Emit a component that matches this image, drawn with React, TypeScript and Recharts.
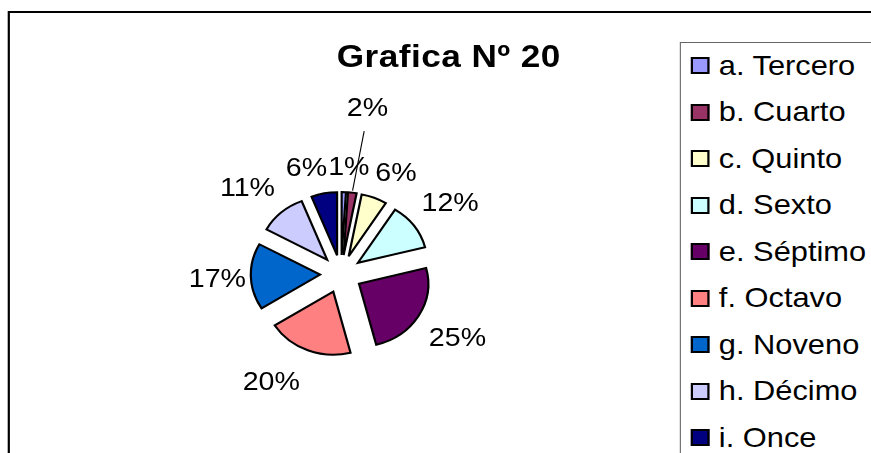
import React from 'react';
import { PieChart, Pie, Cell, Legend } from 'recharts';

const grados = ['a. Tercero', 'b. Cuarto', 'c. Quinto', 'd. Sexto', 'e. Séptimo', 'f. Octavo', 'g. Noveno', 'h. Décimo', 'i. Once'];
const porcentajes = [1, 2, 6, 12, 25, 20, 17, 11, 6];
const colores = ['#9999FF', '#993366', '#FFFFCC', '#CCFFFF', '#660066', '#FF8080', '#0066CC', '#CCCCFF', '#000080'];
// the 2% label is pulled up above the pie with a leader line
const calloutIndex = 1;
// small nudges (degrees, px) so the crowded labels spread like in the original
const labelAngleNudge = [2, 0, 4.4, 0, 0, 9, 0, -3, -5.5];
const labelRadiusNudge = [0, 0, 0, 0, 0, 6, -8, 0, 0];

const data = grados.map((name, i) => ({ name, value: porcentajes[i] }));

const FONT = '"Liberation Sans", Arial, sans-serif';
// the original picture is stretched sideways a little
const STRETCH = 1.1;
const CX = 310;
const CY = 274;
const R = 63;
const EXPLODE = 19;
const LABEL_R = 94;
const LABEL_FS = 26;
const RAD = Math.PI / 180;

const total = porcentajes.reduce((s, v) => s + v, 0);
// mid angle of each slice, clockwise from 12 o'clock
const midAngles = porcentajes.map((v, i) => {
    const before = porcentajes.slice(0, i).reduce((s, x) => s + x, 0);
    return ((before + v / 2) / total) * 360;
});

const renderLabel = (props: any) => {
    const index = props.index;
    const text = `${porcentajes[index]}%`;
    const textProps = {
        textAnchor: 'middle' as const,
        dominantBaseline: 'central' as const,
        fontFamily: FONT,
        fontSize: LABEL_FS,
        fill: '#000',
    };

    if (index === calloutIndex) {
        const a = midAngles[index] * RAD;
        const sx = Math.sin(a);
        const sy = -Math.cos(a);
        return (
            <g key={`label-${index}`}>
                <line x1={CX + sx * 84} y1={CY + sy * 84} x2={CX + sx * 144 + 3} y2={CY + sy * 144} stroke="#000" strokeWidth={1} />
                <text x={CX + sx * 168 + 3} y={CY + sy * 168} {...textProps}>{text}</text>
            </g>
        );
    }

    const a = (midAngles[index] + labelAngleNudge[index]) * RAD;
    const sx = Math.sin(a);
    const sy = -Math.cos(a);
    // push the label out so its box clears the slice
    const hw = ((text.length - 1) * 0.556 + 0.889) * LABEL_FS / 2;
    const hh = 13;
    const r = LABEL_R + Math.abs(sx) * hw + Math.abs(sy) * hh + labelRadiusNudge[index];
    return (
        <text key={`label-${index}`} x={CX + sx * r} y={CY + sy * r} {...textProps}>{text}</text>
    );
};

const renderLegend = () => (
    <div
        style={{
            boxSizing: 'border-box',
            width: 260,
            height: 520,
            border: '1px solid #666',
            background: '#fff',
            fontFamily: FONT,
            fontSize: 28,
            color: '#000',
        }}
    >
        {grados.map((name, i) => (
            <div key={name} style={{ display: 'flex', alignItems: 'center', height: 46.5 }}>
                <span
                    style={{
                        boxSizing: 'border-box',
                        display: 'inline-block',
                        width: 17,
                        height: 17,
                        marginLeft: 9.5,
                        marginRight: 8.5,
                        background: colores[i],
                        border: '2px solid #000',
                    }}
                />
                <span style={{ whiteSpace: 'nowrap' }}>{name}</span>
            </div>
        ))}
    </div>
);

export default function App() {
    return (
        <div style={{ position: 'absolute', left: 0, top: 0, width: 871, height: 453, overflow: 'hidden', background: '#fff' }}>
            <div style={{ position: 'relative', width: 820, height: 480, transform: `scaleX(${STRETCH})`, transformOrigin: '0 0' }}>
                <div
                    style={{
                        position: 'absolute',
                        left: 7.3,
                        top: 11,
                        width: 900,
                        height: 600,
                        border: '2.7px solid #000',
                    }}
                />
                <div
                    style={{
                        position: 'absolute',
                        left: 208,
                        top: 39.6,
                        width: 400,
                        textAlign: 'center',
                        fontFamily: FONT,
                        fontWeight: 'bold',
                        fontSize: 32,
                        lineHeight: '32px',
                        letterSpacing: 0.4,
                        whiteSpace: 'nowrap',
                    }}
                >
                    Grafica Nº 20
                </div>
                <div style={{ position: 'absolute', left: 0, top: 0 }}>
                    <PieChart width={820} height={480} margin={{ top: 0, right: 0, bottom: 0, left: 0 }}>
                        <Pie
                            data={data}
                            dataKey="value"
                            nameKey="name"
                            cx={CX}
                            cy={CY}
                            innerRadius={0}
                            outerRadius={R}
                            startAngle={90}
                            endAngle={-270}
                            stroke="#000"
                            strokeWidth={2}
                            labelLine={false}
                            label={renderLabel}
                            isAnimationActive={false}
                        >
                            {data.map((entry, i) => {
                                const a = midAngles[i] * RAD;
                                const dx = EXPLODE * Math.sin(a);
                                const dy = -EXPLODE * Math.cos(a);
                                return <Cell key={`cell-${i}`} fill={colores[i]} transform={`translate(${dx} ${dy})`} />;
                            })}
                        </Pie>
                        <Legend
                            layout="vertical"
                            align="right"
                            verticalAlign="top"
                            content={renderLegend}
                            wrapperStyle={{ left: 617.5, top: 41.7, width: 260, height: 520 }}
                        />
                    </PieChart>
                </div>
            </div>
        </div>
    );
}
